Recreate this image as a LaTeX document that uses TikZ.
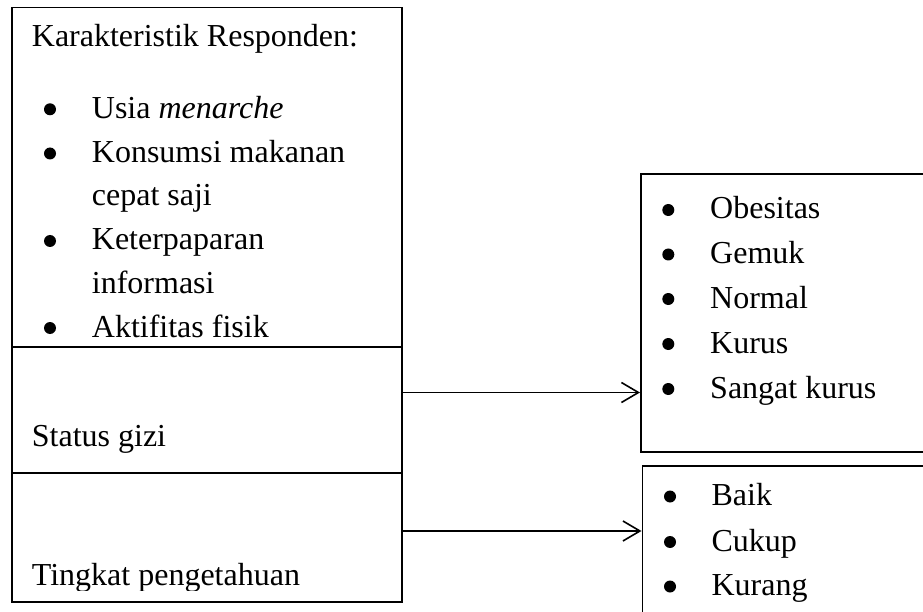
\documentclass[tikz,border=0pt]{standalone}
\usepackage{fontspec}
\setmainfont{Liberation Serif}
\usetikzlibrary{arrows.meta}
\begin{document}
\begin{tikzpicture}[x=1pt,y=-1pt,
  box/.style={draw,line width=1.8pt,inner sep=0pt,anchor=north west},
  txt/.style={anchor=base west,inner sep=0pt,font=\fontsize{32}{38}\selectfont},
  dot/.style={circle,fill=black,inner sep=0pt,minimum size=12pt},
  arr/.style={line width=1.6pt,-{Straight Barb[length=17pt,width=20pt,line width=1.6pt]}}]
\useasboundingbox (0,0) rectangle (923,612);
% left column boxes
\node[box,minimum width=390pt,minimum height=339pt] (kar) at (11,6.7) {};
\node[box,minimum width=390pt,minimum height=126pt] (sg) at (11,345.7) {};
\node[box,minimum width=390pt,minimum height=129pt] (tp) at (11,471.7) {};
% left texts
\node[txt] (t0) at (31.7,46.7) {Karakteristik Responden:};
\node[dot] (b1) at (50,109.3) {};
\node[txt] (t1) at (91.7,118.3) {Usia \textit{menarche}};
\node[dot] (b2) at (50,153.5) {};
\node[txt] (t2) at (91.7,162.5) {Konsumsi makanan};
\node[txt] (t3) at (91.7,206) {cepat saji};
\node[dot] (b3) at (50,241) {};
\node[txt] (t4) at (91.7,250) {Keterpaparan};
\node[txt] (t5) at (91.7,293.5) {informasi};
\node[dot] (b4) at (50,328) {};
\node[txt] (t6) at (91.7,337) {Aktifitas fisik};
\node[txt] (t7) at (31.7,446.7) {Status gizi};
\begin{scope}
\clip (11,471.7) rectangle (401,590);
\node[txt] (t8) at (31.7,585.7) {Tingkat pengetahuan};
\end{scope}
% right boxes
\node[box,minimum width=320pt,minimum height=278pt] (gz) at (640,173) {};
\node[box,minimum width=320pt,minimum height=170pt] (pg) at (641.5,465) {};
% right upper list
\node[dot] (r1) at (668.3,210) {};
\node[txt] (u1) at (710,219) {Obesitas};
\node[dot] (r2) at (668.3,254.5) {};
\node[txt] (u2) at (710,263.5) {Gemuk};
\node[dot] (r3) at (668.3,299) {};
\node[txt] (u3) at (710,308) {Normal};
\node[dot] (r4) at (668.3,344) {};
\node[txt] (u4) at (710,353) {Kurus};
\node[dot] (r5) at (668.3,389) {};
\node[txt] (u5) at (710,398) {Sangat kurus};
% right lower list
\node[dot] (s1) at (670,496.5) {};
\node[txt] (v1) at (711.4,505.5) {Baik};
\node[dot] (s2) at (670,542) {};
\node[txt] (v2) at (711.4,551) {Cukup};
\node[dot] (s3) at (670,586.5) {};
\node[txt] (v3) at (711.4,595.5) {Kurang};
% arrows
\coordinate (a1) at (403.3,392.5);
\coordinate (a2) at (401,531);
\draw[arr] (a1) -- (a1 -| gz.west);
\draw[arr] (a2) -- (a2 -| pg.west);
\end{tikzpicture}
\end{document}
